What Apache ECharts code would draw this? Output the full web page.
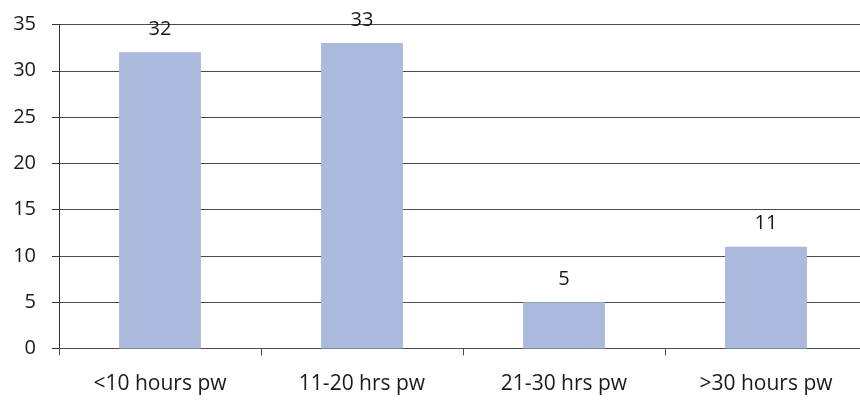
<!DOCTYPE html>
<html>
<head>
<meta charset="utf-8">
<script src="https://cdn.jsdelivr.net/npm/echarts@6/dist/echarts.min.js"></script>
<style>
  html, body { margin: 0; padding: 0; background: #fff; }
  #chart { width: 860px; height: 401px; }
</style>
</head>
<body>
<div id="chart"></div>
<script>
// Weekly hours categories and respondent counts
const categories = ['<10 hours pw', '11-20 hrs pw', '21-30 hrs pw', '>30 hours pw'];
const counts = [32, 33, 5, 11];
const yTicks = { min: 0, max: 35, step: 5 };

const fontFamily = '"Open Sans", Lato, sans-serif';
const lineColor = '#4a4a4a';

const chart = echarts.init(document.getElementById('chart'), null, { renderer: 'canvas' });
chart.setOption({
  animation: false,
  grid: {
    left: 59, width: 808, top: 24.5, bottom: 52.5,
    containLabel: false, outerBoundsMode: 'none'
  },
  xAxis: {
    type: 'category',
    data: categories,
    axisLine: { show: true, lineStyle: { color: lineColor, width: 1 } },
    axisTick: { show: true, alignWithLabel: false, length: 7, lineStyle: { color: lineColor } },
    axisLabel: { color: '#1a1a1a', fontSize: 21, fontFamily: fontFamily, margin: 25 }
  },
  yAxis: {
    type: 'value',
    min: yTicks.min,
    max: yTicks.max,
    interval: yTicks.step,
    axisLine: { show: true, lineStyle: { color: '#333', width: 1 } },
    axisTick: { show: true, length: 7, lineStyle: { color: '#333' } },
    axisLabel: { color: '#1a1a1a', fontSize: 20, fontFamily: fontFamily, margin: 23 },
    splitLine: { show: true, lineStyle: { color: lineColor, width: 1 } }
  },
  series: [{
    type: 'bar',
    data: counts,
    barWidth: '40.5%',
    itemStyle: { color: '#abb9dd' },
    label: {
      show: true,
      position: 'top',
      distance: 13,
      color: '#1a1a1a',
      fontSize: 20,
      fontFamily: fontFamily
    }
  }]
});
</script>
</body>
</html>
